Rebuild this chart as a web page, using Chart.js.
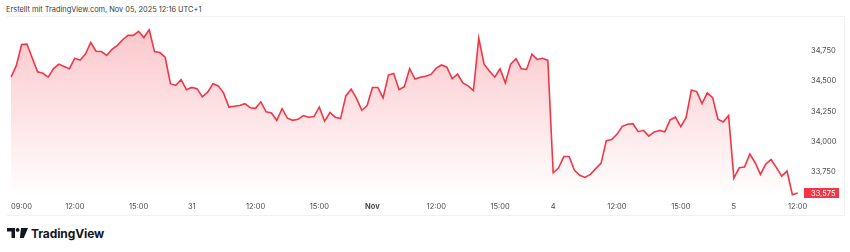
<!DOCTYPE html>
<html>
<head>
<meta charset="utf-8">
<script src="https://cdn.jsdelivr.net/npm/chart.js@4.4.1/dist/chart.umd.min.js"></script>
<style>
	body { margin: 0; width: 850px; height: 252px; background: #fff; position: relative; overflow: hidden; font-family: Inter, "Noto Sans", sans-serif; }
	#head { position: absolute; left: 6px; top: 5px; font-size: 7.4px; color: #3b3b3b; white-space: nowrap; }
	#frame { position: absolute; left: 7px; top: 16px; width: 837px; height: 198px; border-top: 1px solid #f0f1f4; border-right: 1px solid #f0f1f4; border-bottom: 1px solid #f0f1f4; }
	#box { position: absolute; left: 7px; top: 16px; width: 838px; height: 199px; }
	#logo { position: absolute; left: 7px; top: 226px; height: 14px; display: flex; align-items: center; }
	#logo span { font-size: 12px; font-weight: 700; color: #131722; margin-left: 3px; letter-spacing: -0.1px; }
</style>
</head>
<body>
<div id="head">Erstellt mit TradingView.com, Nov 05, 2025 12:16 UTC+1</div>
<div id="frame"></div>
<div id="box"><canvas id="myChart"></canvas></div>
<div id="logo">
	<svg width="21" height="10" viewBox="0 0 21 10">
		<path d="M0 0 H8 V10 H4.5 V3.5 H0 Z" fill="#131722"/>
		<circle cx="10.6" cy="1.9" r="1.9" fill="#131722"/>
		<path d="M14 0 H21 L16.8 10 H12.9 Z" fill="#131722"/>
	</svg>
	<span>TradingView</span>
</div>
<script>
var dayNames = ['30', '31', 'Nov', '4', '5'];

// 15 min bars, 09:00 - 17:15
var barTimes = [];
var k;
for (k = 0; k < 34; k++) {
	var hh = 9 + Math.floor(k / 4);
	var mm = (k % 4) * 15;
	barTimes.push((hh < 10 ? '0' : '') + hh + ':' + (mm == 0 ? '00' : mm));
}

var categories = [];
var i, j;
for (i = 0; i < dayNames.length; i++) {
	for (j = 0; j < barTimes.length; j++) {
		categories.push(dayNames[i] + ' ' + barTimes[j]);
		if (i == dayNames.length - 1 && barTimes[j] == '12:15') break;
	}
}

var prices = [
	34533, 34628, 34804, 34807, 34692, 34577, 34565, 34533, 34604, 34641,
	34622, 34603, 34690, 34674, 34725, 34820, 34748, 34745, 34713, 34764,
	34797, 34843, 34879, 34879, 34913, 34861, 34926, 34745, 34737, 34698,
	34479, 34465, 34512, 34430,
	34448, 34438, 34370, 34409, 34479, 34461, 34401, 34285, 34293, 34298,
	34314, 34280, 34275, 34329, 34246, 34236, 34176, 34272, 34194, 34176,
	34184, 34215, 34202, 34207, 34285, 34169, 34241, 34202, 34190, 34378,
	34434, 34357, 34259, 34298,
	34448, 34448, 34362, 34551, 34564, 34430, 34455, 34603, 34517, 34533,
	34541, 34556, 34608, 34634, 34616, 34520, 34559, 34486, 34461, 34422,
	34856, 34641, 34585, 34533, 34603, 34486, 34641, 34686, 34603, 34597,
	34724, 34680, 34690, 34672,
	33742, 33781, 33876, 33876, 33763, 33721, 33703, 33729, 33776, 33820,
	34008, 34017, 34060, 34126, 34144, 34148, 34082, 34093, 34045, 34080,
	34091, 34081, 34179, 34202, 34124, 34198, 34427, 34414, 34314, 34403,
	34364, 34186, 34163, 34215,
	33698, 33783, 33790, 33897, 33825, 33729, 33814, 33852, 33784, 33714,
	33756, 33560, 33575
];

var xTickIdx = [0, 12, 24, 34, 46, 58, 68, 80, 92, 102, 114, 126, 136, 148, 149];
var xTickText = ['09:00', '12:00', '15:00', '31', '12:00', '15:00', 'Nov', '12:00', '15:00', '4', '12:00', '15:00', '5', '12:00', ''];

var yTicks = [33750, 34000, 34250, 34500, 34750];
var yMin = 33533;
var yMax = 34936;

var red = '#f23645';
var axisFont = { family: 'Inter', size: 7.5 };

function fmt(v) {
	return v.toLocaleString('en-US');
}

var lastPriceLabel = {
	id: 'lastPriceLabel',
	afterDraw: function(chart) {
		var ctx = chart.ctx;
		var y = chart.scales.y.getPixelForValue(prices[prices.length - 1]);
		var left = chart.chartArea.right + 1;
		ctx.save();
		ctx.fillStyle = red;
		ctx.fillRect(left, Math.round(y) - 5, 35, 10);
		ctx.fillStyle = '#fff';
		ctx.font = '7.5px Inter';
		ctx.textBaseline = 'middle';
		ctx.fillText(fmt(prices[prices.length - 1]), left + 7, y + 0.5);
		ctx.restore();
	}
};

window.ctx = document.getElementById('myChart').getContext('2d');
window.chart = new Chart(ctx, {
	type: 'line',
	data: {
		labels: categories,
		datasets: [{
			data: prices,
			borderColor: red,
			borderWidth: 1.6,
			pointRadius: 0,
			tension: 0,
			fill: 'start',
			backgroundColor: function(c) {
				var a = c.chart.chartArea;
				if (!a) return 'rgba(242,54,69,0.15)';
				var g = c.chart.ctx.createLinearGradient(0, a.top, 0, a.bottom);
				g.addColorStop(0, 'rgba(242,54,69,0.28)');
				g.addColorStop(1, 'rgba(242,54,69,0.0)');
				return g;
			}
		}]
	},
	options: {
		responsive: true,
		maintainAspectRatio: false,
		animation: false,
		layout: { padding: { left: 1, top: 1, right: 0, bottom: 0 } },
		plugins: { legend: { display: false }, tooltip: { enabled: false } },
		scales: {
			x: {
				type: 'category',
				grid: { display: false, drawTicks: false },
				border: { display: false },
				afterBuildTicks: function(scale) {
					scale.ticks = xTickIdx.map(function(v) { return { value: v }; });
				},
				afterFit: function(scale) { scale.height = 17; },
				ticks: {
					autoSkip: false,
					maxRotation: 0,
					align: 'inner',
					padding: 4,
					color: '#4a4a4a',
					font: function(c) {
						var t = c.tick ? xTickText[xTickIdx.indexOf(c.tick.value)] : '';
						return { family: 'Inter', size: 7.5, weight: t == 'Nov' ? 'bold' : 'normal' };
					},
					callback: function(value) {
						return xTickText[xTickIdx.indexOf(value)];
					}
				}
			},
			y: {
				position: 'right',
				min: yMin,
				max: yMax,
				grid: { display: false, drawTicks: false },
				border: { display: false },
				afterBuildTicks: function(scale) {
					scale.ticks = yTicks.map(function(v) { return { value: v }; });
				},
				afterFit: function(scale) { scale.width = 42; },
				ticks: {
					padding: 8,
					color: '#4a4a4a',
					font: axisFont,
					callback: function(v) { return fmt(v); }
				}
			}
		}
	},
	plugins: [lastPriceLabel]
});
</script>
</body>
</html>
